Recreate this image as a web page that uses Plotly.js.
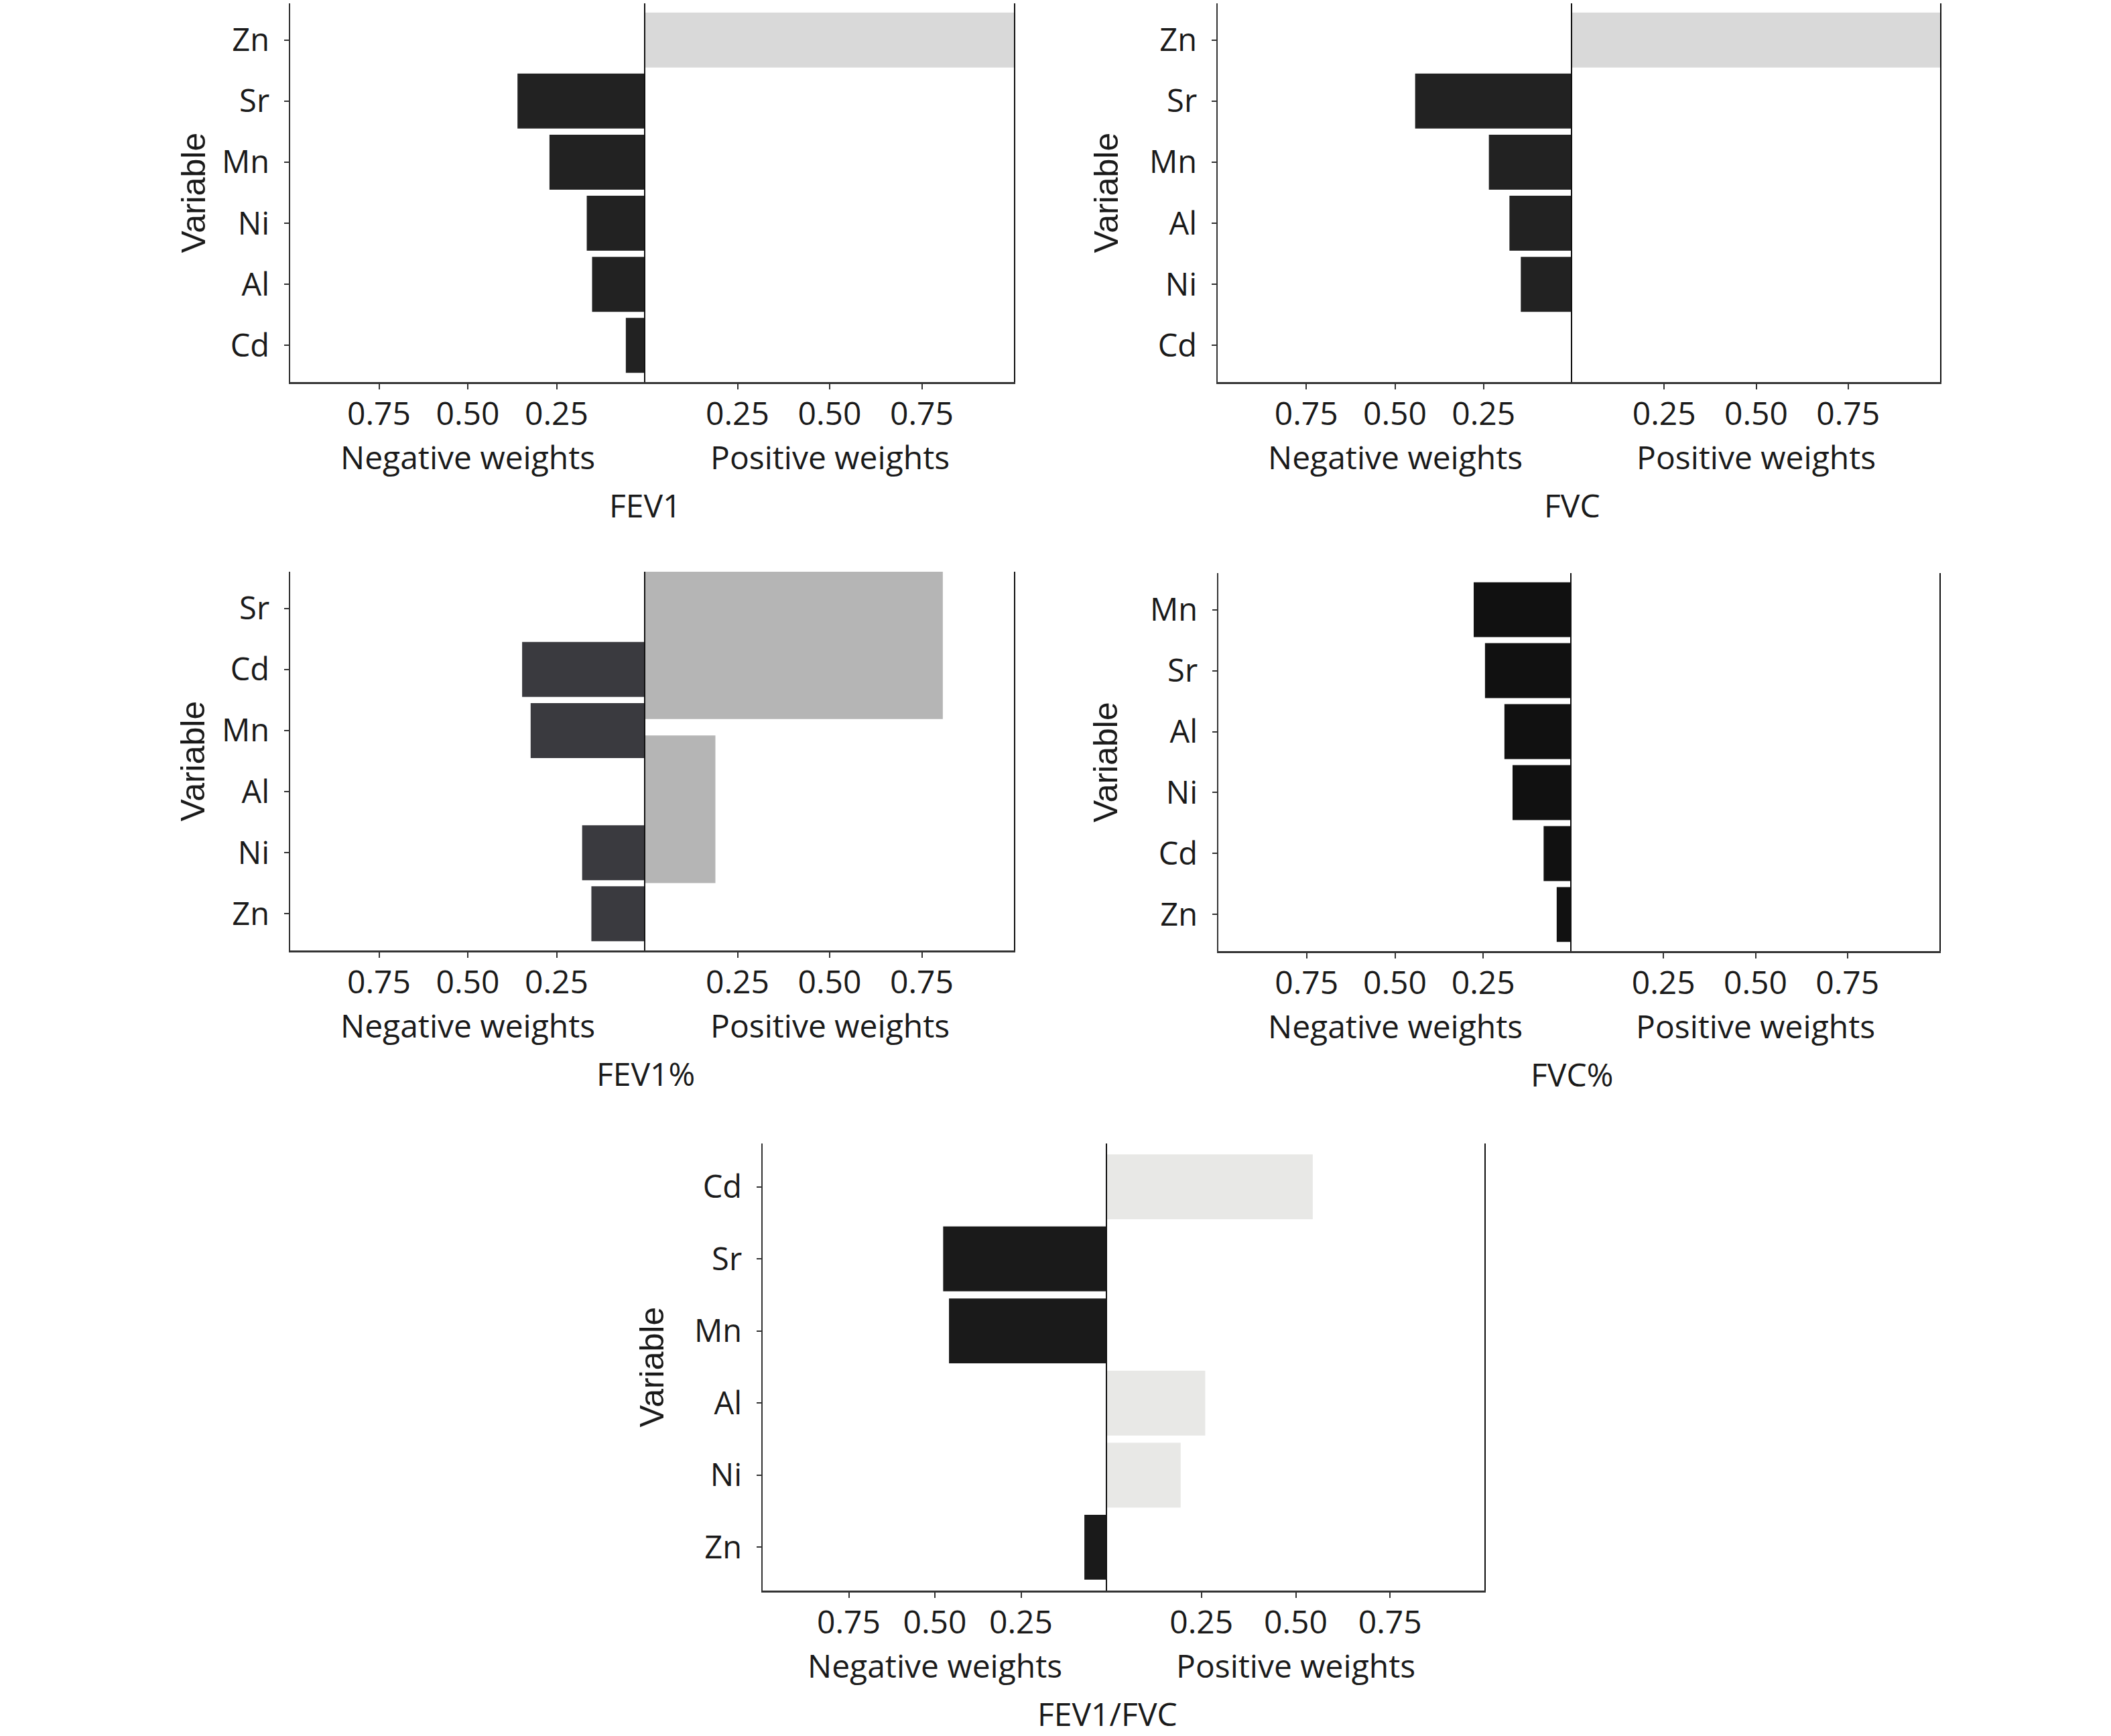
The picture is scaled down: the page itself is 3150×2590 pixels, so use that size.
<!DOCTYPE html>
<html>
<head>
<meta charset="utf-8">
<script src="https://cdn.plot.ly/plotly-3.0.1.min.js"></script>
<style>
  html, body { margin: 0; padding: 0; background: #fff; }
  #chart { width: 3150px; height: 2590px; }
</style>
</head>
<body>
<div id="chart"></div>
<script>
// WQS-style weight panels: negative weights on the left half, positive on the right.

// FEV1
var fev1Order = ['Zn', 'Sr', 'Mn', 'Ni', 'Al', 'Cd'];
var fev1NegVars = ['Sr', 'Mn', 'Ni', 'Al', 'Cd'];
var fev1NegW = [0.36, 0.27, 0.165, 0.15, 0.055];
var fev1PosVars = ['Zn'];
var fev1PosW = [1.0];

// FVC
var fvcOrder = ['Zn', 'Sr', 'Mn', 'Al', 'Ni', 'Cd'];
var fvcNegVars = ['Sr', 'Mn', 'Al', 'Ni'];
var fvcNegW = [0.443, 0.235, 0.177, 0.145];
var fvcPosVars = ['Zn'];
var fvcPosW = [1.0];

// FEV1%
var fev1PctOrder = ['Sr', 'Cd', 'Mn', 'Al', 'Ni', 'Zn'];
var fev1PctNegVars = ['Cd', 'Mn', 'Ni', 'Zn'];
var fev1PctNegW = [0.347, 0.323, 0.178, 0.152];
var fev1PctPosVars = ['Sr', 'Al'];
var fev1PctPosW = [0.807, 0.19];

// FVC%
var fvcPctOrder = ['Mn', 'Sr', 'Al', 'Ni', 'Cd', 'Zn'];
var fvcPctNegVars = ['Mn', 'Sr', 'Al', 'Ni', 'Cd', 'Zn'];
var fvcPctNegW = [0.277, 0.245, 0.19, 0.167, 0.079, 0.042];
var fvcPctPosVars = [];
var fvcPctPosW = [];

// FEV1/FVC
var ratioOrder = ['Cd', 'Sr', 'Mn', 'Al', 'Ni', 'Zn'];
var ratioNegVars = ['Sr', 'Mn', 'Zn'];
var ratioNegW = [0.476, 0.459, 0.066];
var ratioPosVars = ['Cd', 'Al', 'Ni'];
var ratioPosW = [0.545, 0.26, 0.195];

var weightTicks = [0.25, 0.5, 0.75];
var weightTickText = ['0.25', '0.50', '0.75'];

var W = 3150, H = 2590;
var TXT = '#1a1a1a';
var AX = '#333333';
var FONT = '"Open Sans", "Noto Sans", sans-serif';

// pixel boxes for each panel: x = [left, zero, right], y = [top, bottom]
var panels = [
  { title: 'FEV1', order: fev1Order, negVars: fev1NegVars, negW: fev1NegW,
    posVars: fev1PosVars, posW: fev1PosW, negColor: '#222222', posColor: '#d9d9d9',
    x: [433, 963, 1513], y: [5, 570], varX: 288 },
  { title: 'FVC', order: fvcOrder, negVars: fvcNegVars, negW: fvcNegW,
    posVars: fvcPosVars, posW: fvcPosW, negColor: '#222222', posColor: '#d9d9d9',
    x: [1817, 2346, 2895], y: [5, 570], varX: 1650 },
  { title: 'FEV1%', order: fev1PctOrder, negVars: fev1PctNegVars, negW: fev1PctNegW,
    posVars: fev1PctPosVars, posW: fev1PctPosW, negColor: '#3a3a3f', posColor: '#b5b5b5',
    posOrder: ['Sr', 'Al'], posRange: [1.861, -0.448],
    x: [433, 963, 1513], y: [853, 1418], varX: 287 },
  { title: 'FVC%', order: fvcPctOrder, negVars: fvcPctNegVars, negW: fvcPctNegW,
    posVars: fvcPctPosVars, posW: fvcPctPosW, negColor: '#111111', posColor: '#d9d9d9',
    x: [1818, 2345, 2894], y: [855, 1419], varX: 1650 },
  { title: 'FEV1/FVC', order: ratioOrder, negVars: ratioNegVars, negW: ratioNegW,
    posVars: ratioPosVars, posW: ratioPosW, negColor: '#1a1a1a', posColor: '#e8e8e6',
    x: [1138, 1652, 2215], y: [1706, 2373], varX: 972 }
];

function fx(px) { return px / W; }
function fy(py) { return 1 - py / H; }

var traces = [];
var layout = {
  width: W,
  height: H,
  margin: { t: 0, r: 0, b: 0, l: 0 },
  paper_bgcolor: '#ffffff',
  plot_bgcolor: 'rgba(0,0,0,0)',
  showlegend: false,
  font: { family: FONT, color: TXT, size: 48 },
  annotations: []
};

function xAxisDef(domain, anchor, range) {
  return {
    domain: domain, anchor: anchor, range: range,
    tickvals: weightTicks, ticktext: weightTickText,
    ticks: 'outside', ticklen: 8, tickwidth: 2, tickcolor: AX,
    ticklabelstandoff: -4,
    showline: true, linecolor: AX, linewidth: 2.5,
    showgrid: false, zeroline: false, fixedrange: true,
    tickfont: { family: FONT, size: 48, color: TXT }
  };
}

function label(text, px, py, size, family, angle) {
  layout.annotations.push({
    text: text, xref: 'paper', yref: 'paper', x: fx(px), y: fy(py),
    xanchor: 'center', yanchor: 'middle', showarrow: false,
    textangle: angle || 0,
    font: { family: family || FONT, size: size || 48, color: TXT }
  });
}

panels.forEach(function (p, i) {
  var kl = 2 * i + 1, kr = 2 * i + 2;
  var n = p.order.length;
  var yDom = [fy(p.y[1]), fy(p.y[0])];
  var posOrder = p.posOrder || p.order;
  var posRange = p.posRange || [n - 0.4, -0.6];

  traces.push({
    type: 'bar', orientation: 'h', x: p.negW, y: p.negVars,
    xaxis: 'x' + kl, yaxis: 'y' + kl, width: 0.9,
    marker: { color: p.negColor, line: { width: 0 } }, hoverinfo: 'x+y'
  });
  traces.push({
    type: 'bar', orientation: 'h', x: p.posW, y: p.posVars,
    xaxis: 'x' + kr, yaxis: 'y' + kr, width: 0.9,
    marker: { color: p.posColor, line: { width: 0 } }, hoverinfo: 'x+y'
  });

  layout['xaxis' + kl] = xAxisDef([fx(p.x[0]), fx(p.x[1])], 'y' + kl, [1, 0]);
  layout['xaxis' + kr] = xAxisDef([fx(p.x[1]), fx(p.x[2])], 'y' + kr, [0, 1]);

  layout['yaxis' + kl] = {
    domain: yDom, anchor: 'x' + kl, type: 'category',
    categoryorder: 'array', categoryarray: p.order, range: [n - 0.4, -0.6],
    ticks: 'outside', ticklen: 7, tickwidth: 2, tickcolor: AX,
    ticklabelstandoff: 12,
    showline: true, linecolor: AX, linewidth: 2.5,
    showgrid: false, zeroline: false, fixedrange: true,
    tickfont: { family: FONT, size: 47, color: TXT }
  };
  layout['yaxis' + kr] = {
    domain: yDom, anchor: 'x' + kr, type: 'category',
    categoryorder: 'array', categoryarray: posOrder, range: posRange,
    showticklabels: false, ticks: '',
    showline: true, mirror: true, linecolor: '#111111', linewidth: 2,
    showgrid: false, zeroline: false, fixedrange: true
  };

  var base = p.y[1];
  label('Negative weights', (p.x[0] + p.x[1]) / 2, base + 111, 48);
  label('Positive weights', (p.x[1] + p.x[2]) / 2, base + 111, 48);
  label(p.title, p.x[1], base + 183, 48);
  label('Variable', p.varX, (p.y[0] + p.y[1]) / 2, 50, '"Liberation Sans", Arial, sans-serif', -90);
});

Plotly.newPlot('chart', traces, layout, { displayModeBar: false, staticPlot: true });
</script>
</body>
</html>
